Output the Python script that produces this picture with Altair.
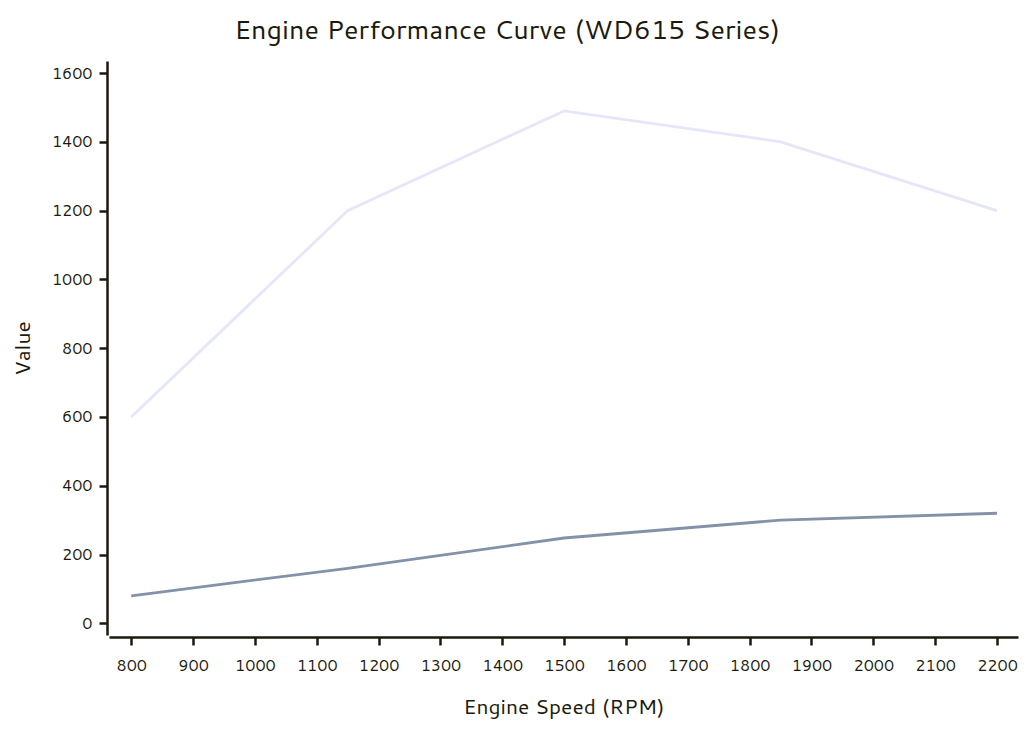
import pandas as pd
import altair as alt

rpm = [800, 1150, 1500, 1850, 2200]
torque = [600, 1200, 1490, 1400, 1200]
power = [80, 160, 248, 300, 320]
series_names = ["Torque (N·m)", "Power (kW)"]
series_colors = ["#e6e6fa", "#8392a8"]
x_ticks = list(range(800, 2201, 100))
y_ticks = list(range(0, 1601, 200))

FONT = "Cantarell"
INK = "#1c1a0c"

data = pd.DataFrame({
    "RPM": rpm * 2,
    "Value": torque + power,
    "Series": [series_names[0]] * len(rpm) + [series_names[1]] * len(rpm),
})

x_axis = alt.X("RPM:Q", title="Engine Speed (RPM)",
               scale=alt.Scale(domain=[764, 2234], nice=False, zero=False),
               axis=alt.Axis(values=x_ticks, grid=False, format="d", labelPadding=12, titlePadding=23))
y_axis = alt.Y("Value:Q", title="Value",
               scale=alt.Scale(domain=[-34, 1635], nice=False),
               axis=alt.Axis(values=y_ticks, grid=False, format="d", labelPadding=7, titlePadding=18))

chart = alt.Chart(data).mark_line(strokeWidth=2.8).encode(
    x=x_axis,
    y=y_axis,
    color=alt.Color("Series:N", scale=alt.Scale(domain=series_names, range=series_colors), legend=None),
    detail="Series:N",
).properties(
    width=909,
    height=574,
    padding={"left": 4, "top": 9, "right": 5, "bottom": 5},
    title=alt.TitleParams("Engine Performance Curve (WD615 Series)", font=FONT, fontSize=27,
                          fontWeight="normal", color=INK, offset=16, frame="bounds", dx=-8),
).configure_view(
    stroke=None
).configure_axis(
    labelFont=FONT, titleFont=FONT, labelFontSize=16, titleFontSize=21,
    titleFontWeight="normal", labelColor=INK, titleColor=INK,
    domainColor=INK, domainWidth=2.5, tickColor=INK, tickWidth=2.5, tickSize=8,
    offset=2,
)

chart.save("out.html", embed_options={"renderer": "svg", "actions": False})
